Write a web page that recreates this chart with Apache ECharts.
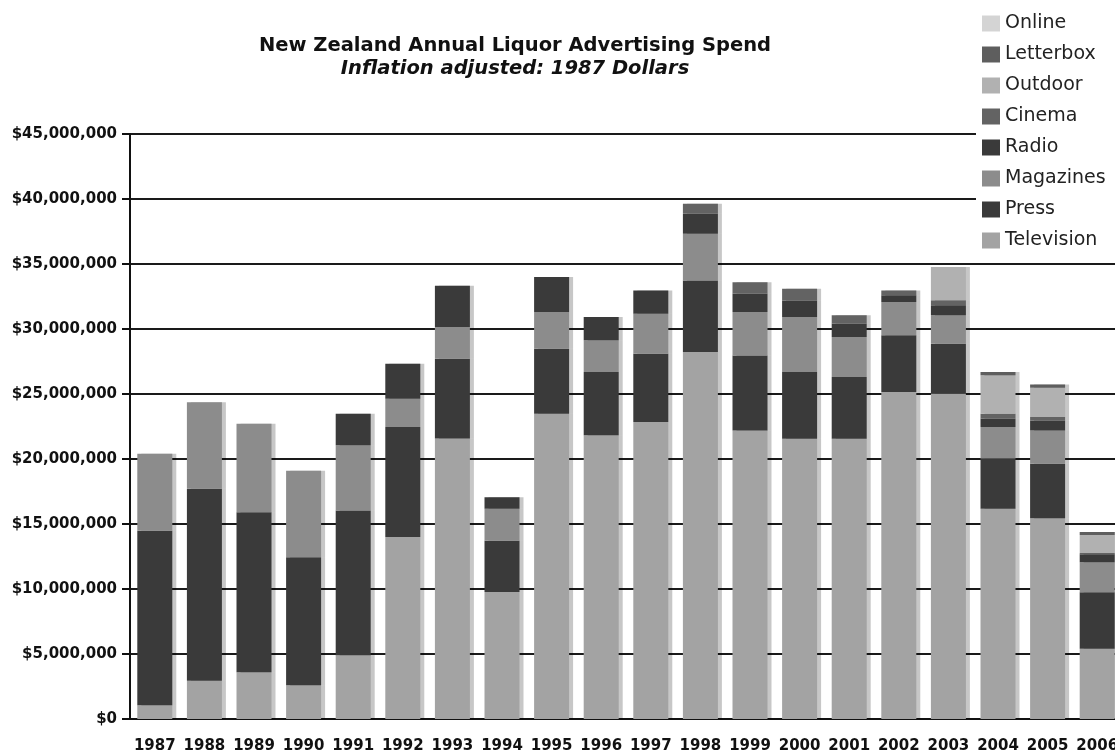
<!DOCTYPE html>
<html>
<head>
<meta charset="utf-8">
<title>NZ Liquor Advertising Spend</title>
<script src="https://cdn.jsdelivr.net/npm/echarts@6/dist/echarts.min.js"></script>
<style>
    html, body { margin:0; padding:0; background:#fff; overflow:hidden; }
    #main { width:1115px; height:751px; }
</style>
</head>
<body>
<div id="main"></div>
<script>
// values in millions of 1987 dollars
var years = ['1987','1988','1989','1990','1991','1992','1993','1994','1995','1996',
             '1997','1998','1999','2000','2001','2002','2003','2004','2005','2006'];
var television = [1.05, 2.95, 3.59, 2.59, 4.9, 14.0, 21.57, 9.77, 23.49, 21.82,
                  22.85, 28.23, 22.2, 21.56, 21.56, 25.15, 25.03, 16.18, 15.44, 5.41];
var press      = [13.43, 14.77, 12.31, 9.85, 11.13, 8.46, 6.15, 3.95, 5.0, 4.87,
                  5.25, 5.51, 5.77, 5.13, 4.75, 4.36, 3.84, 3.85, 4.2, 4.34];
var magazines  = [5.93, 6.64, 6.82, 6.66, 5.02, 2.18, 2.43, 2.46, 2.82, 2.44,
                  3.08, 3.59, 3.34, 4.23, 3.07, 2.57, 2.18, 2.43, 2.56, 2.3];
var radio      = [0, 0, 0, 0, 2.44, 2.69, 3.18, 0.87, 2.69, 1.79,
                  1.79, 1.54, 1.41, 1.28, 1.03, 0.51, 0.77, 0.64, 0.77, 0.62];
var cinema     = [0, 0, 0, 0, 0, 0, 0, 0, 0, 0,
                  0, 0.77, 0.87, 0.9, 0.64, 0.38, 0.39, 0.39, 0.26, 0.1];
var outdoor    = [0, 0, 0, 0, 0, 0, 0, 0, 0, 0,
                  0, 0, 0, 0, 0, 0, 2.56, 2.95, 2.26, 1.38];
var letterbox  = [0, 0, 0, 0, 0, 0, 0, 0, 0, 0,
                  0, 0, 0, 0, 0, 0, 0, 0.25, 0.25, 0.24];
var online     = [0, 0, 0, 0, 0, 0, 0, 0, 0, 0,
                  0, 0, 0, 0, 0, 0, 0, 0, 0, 0];
var legendOrder = ['Online','Letterbox','Outdoor','Cinema','Radio','Magazines','Press','Television'];

var font = 'DejaVu Sans';

function bar(name, data, color) {
    return {
        name: name,
        type: 'bar',
        stack: 'total',
        barWidth: 35,
        data: data,
        itemStyle: {
            color: color,
            shadowColor: 'rgba(0,0,0,0.22)',
            shadowOffsetX: 4,
            shadowOffsetY: 0,
            shadowBlur: 0
        }
    };
}

var chart = echarts.init(document.getElementById('main'), null, {renderer: 'canvas'});
var option = {
    backgroundColor: '#fff',
    animation: false,
    title: [{
        text: 'New Zealand Annual Liquor Advertising Spend',
        left: 510, top: 31, textAlign: 'center',
        textStyle: {fontFamily: font, fontSize: 19.5, fontWeight: 'bold', color: '#111'}
    }, {
        text: 'Inflation adjusted: 1987 Dollars',
        left: 510, top: 54, textAlign: 'center',
        textStyle: {fontFamily: font, fontSize: 19.5, fontWeight: 'bold', fontStyle: 'italic', color: '#111'}
    }],
    legend: {
        data: legendOrder,
        orient: 'vertical',
        left: 976, top: 8,
        padding: [6, 30, 8, 6],
        backgroundColor: '#fff',
        icon: 'rect',
        itemWidth: 18, itemHeight: 16, itemGap: 12,
        itemStyle: {shadowColor: 'transparent', shadowBlur: 0, shadowOffsetX: 0},
        textStyle: {fontFamily: font, fontSize: 19, color: '#222'}
    },
    // the plot runs a few px past the right edge of the window, like the original
    grid: {left: 130, top: 134, width: 992, height: 585, outerBoundsMode: 'none'},
    xAxis: {
        type: 'category',
        data: years,
        axisLine: {lineStyle: {color: '#111', width: 2}},
        axisTick: {show: false},
        axisLabel: {fontFamily: font, fontSize: 15, fontWeight: 'bold', color: '#111', margin: 20, interval: 0}
    },
    yAxis: {
        type: 'value',
        min: 0, max: 45, interval: 5,
        axisLine: {show: true, lineStyle: {color: '#111', width: 2}},
        axisTick: {show: true, length: 8, lineStyle: {color: '#111', width: 2}},
        splitLine: {lineStyle: {color: '#1a1a1a', width: 2}},
        axisLabel: {
            fontFamily: font, fontSize: 15, fontWeight: 'bold', color: '#111', margin: 13,
            formatter: function (v) { return '$' + Math.round(v * 1e6).toLocaleString('en-US'); }
        }
    },
    series: [
        bar('Television', television, '#a3a3a3'),
        bar('Press', press, '#3a3a3a'),
        bar('Magazines', magazines, '#8c8c8c'),
        bar('Radio', radio, '#3a3a3a'),
        bar('Cinema', cinema, '#636363'),
        bar('Outdoor', outdoor, '#b1b1b1'),
        bar('Letterbox', letterbox, '#5e5e5e'),
        bar('Online', online, '#d4d4d4')
    ]
};
chart.setOption(option);
</script>
</body>
</html>
